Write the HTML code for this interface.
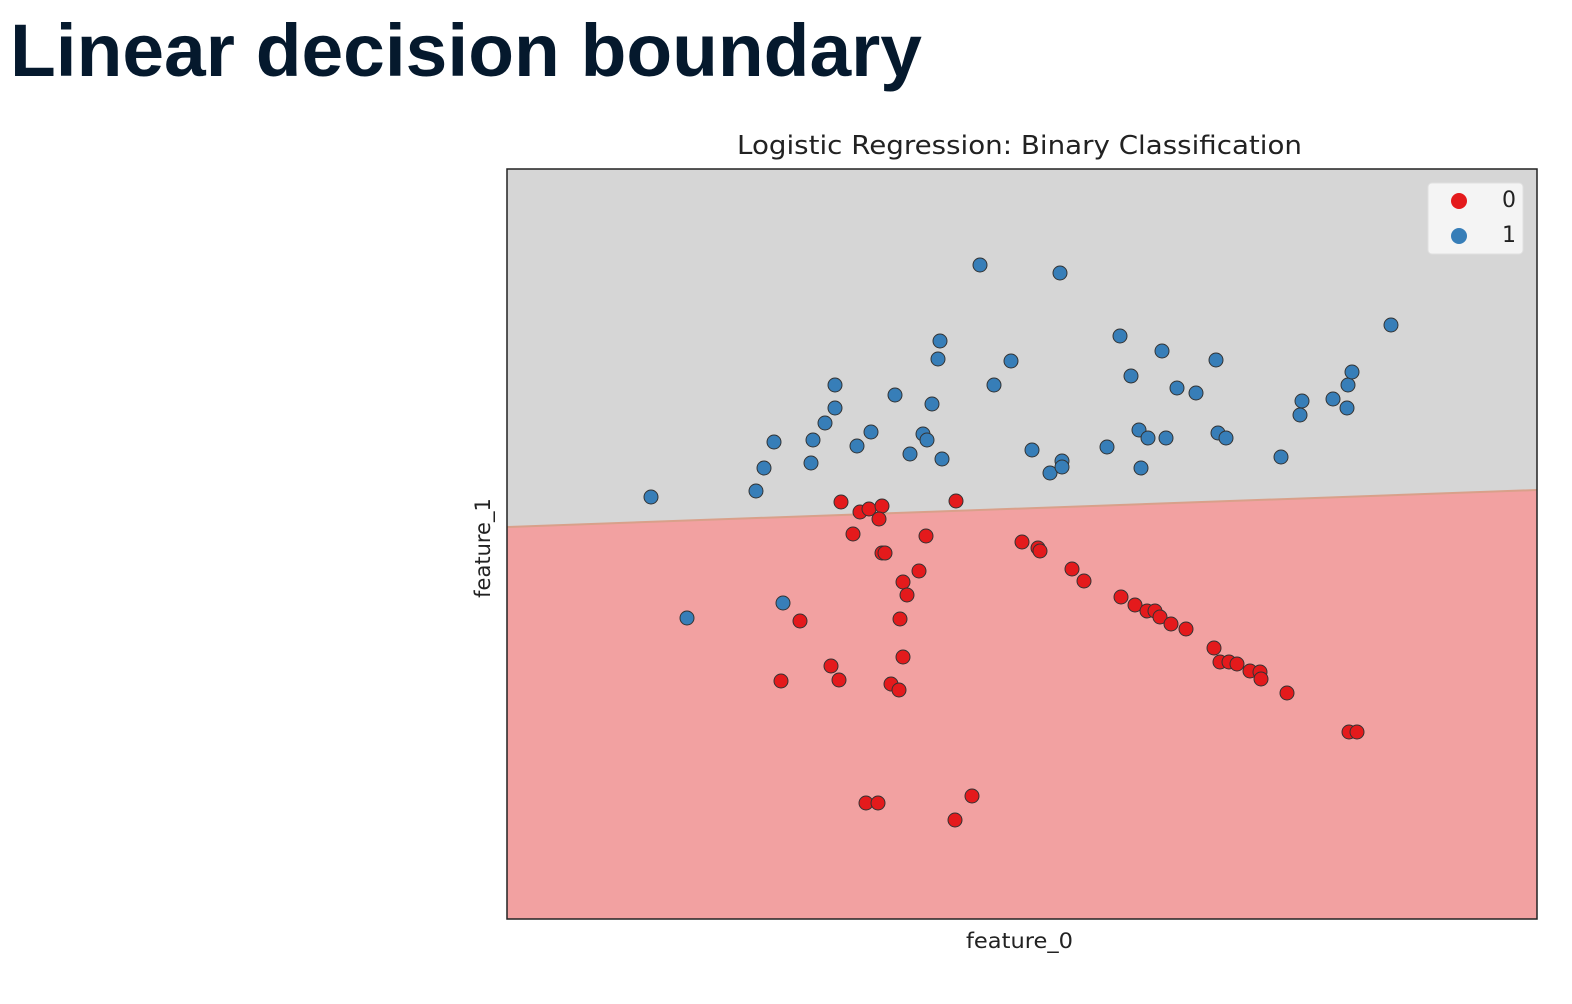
<!DOCTYPE html>
<html><head><meta charset="utf-8"><style>
html,body{margin:0;padding:0;background:#fff;}
svg{display:block;}
</style></head><body>
<svg id="root" width="1572" height="1004" xmlns="http://www.w3.org/2000/svg">
<text x="10" y="76" font-family="Liberation Sans, sans-serif" font-weight="bold" font-size="74" fill="#05192d" textLength="912" lengthAdjust="spacingAndGlyphs">Linear decision boundary</text>
<text x="737" y="154" font-family="DejaVu Sans, sans-serif" font-size="26" fill="#222" textLength="565" lengthAdjust="spacingAndGlyphs">Logistic Regression: Binary Classification</text>
<g id="plot"></g>
<text x="966" y="948" font-family="DejaVu Sans, sans-serif" font-size="21" fill="#222" textLength="107" lengthAdjust="spacingAndGlyphs">feature_0</text>
<text transform="translate(490,548) rotate(-90)" text-anchor="middle" font-family="DejaVu Sans, sans-serif" font-size="21" fill="#222">feature_1</text>
<g>
<rect x="1428" y="183" width="95" height="71" rx="4" fill="#f4f4f4" stroke="#e0e0e0"/>
<circle cx="1459" cy="201" r="8" fill="#e41a1c"/>
<text x="1502" y="207" font-family="DejaVu Sans, sans-serif" font-size="22" fill="#222">0</text>
<circle cx="1459" cy="236" r="8" fill="#377eb8"/>
<text x="1502" y="242" font-family="DejaVu Sans, sans-serif" font-size="22" fill="#222">1</text>
</g>
</svg>
<script>
const blueX=[6.51,6.87,7.56,7.64,7.74,7.83,8.11,8.13,8.25,8.35,8.35,8.57,8.71,8.95,9.10,9.23,9.27,9.32,9.38,9.40,9.42,9.80,9.94,10.11,10.32,10.50,10.62,10.62,10.60,11.07,11.20,11.31,11.39,11.41,11.48,11.62,11.66,11.77,11.96,12.16,12.18,12.26,12.81,13.00,13.02,13.33,13.47,13.48,13.52,13.91];
const blueY=[5.03,3.82,5.09,5.32,5.58,3.97,5.37,5.60,5.77,5.92,6.15,5.54,5.68,6.05,5.46,5.66,5.60,5.96,6.41,6.59,5.41,7.35,6.15,6.39,5.50,5.27,5.39,5.33,7.27,5.53,6.64,6.24,5.70,5.32,5.62,6.49,5.62,6.12,6.07,6.40,5.67,5.62,5.43,5.85,5.99,6.01,5.92,6.15,6.28,6.75];
const redX=[8.41,8.60,8.69,8.82,8.79,8.53,8.82,8.85,9.26,9.56,9.19,9.03,9.07,9.00,8.00,7.81,8.31,8.39,8.91,8.99,9.03,10.22,10.38,10.40,10.72,10.84,11.21,11.35,11.47,11.55,11.60,11.71,11.86,12.14,12.20,12.29,12.37,12.50,12.60,12.61,12.87,13.49,13.57,8.66,8.78,9.72,9.55];
const redY=[4.98,4.88,4.91,4.94,4.81,4.66,4.47,4.47,4.64,4.99,4.29,4.18,4.05,3.81,3.79,3.19,3.34,3.20,3.16,3.10,3.43,4.58,4.52,4.49,4.31,4.19,4.03,3.95,3.89,3.89,3.83,3.76,3.71,3.52,3.38,3.38,3.36,3.29,3.28,3.21,3.07,2.68,2.68,1.97,1.97,2.04,1.80];
const xDomain=[5.07,15.37], yDomain=[0.81,8.31];
const boundaryX=[5.07,15.37], boundaryY=[4.73,5.10];
const L=507,R=1537,T=169,B=919;
const sx=v=>L+(v-xDomain[0])/(xDomain[1]-xDomain[0])*(R-L);
const sy=v=>B-(v-yDomain[0])/(yDomain[1]-yDomain[0])*(B-T);
const NS='http://www.w3.org/2000/svg';
const g=document.getElementById('plot');
function mk(tag,attrs){const e=document.createElementNS(NS,tag);for(const k in attrs)e.setAttribute(k,attrs[k]);g.appendChild(e);return e;}
const bg=mk('rect',{x:L,y:T,width:R-L,height:B-T,fill:'#d6d6d6'});


const x0=sx(boundaryX[0]),y0=sy(boundaryY[0]),x1=sx(boundaryX[1]),y1=sy(boundaryY[1]);
const reg=mk('polygon',{points:`${x0},${y0} ${x1},${y1} ${R},${B} ${L},${B}`,fill:'#f2a1a1'});


const bl=mk('line',{x1:x0,y1:y0,x2:x1,y2:y1,stroke:'#d9a08a','stroke-width':2});


function pts(xs,ys,color,name){for(let i=0;i<xs.length;i++){const c=mk('circle',{cx:sx(xs[i]),cy:sy(ys[i]),r:7,fill:color,stroke:'#333','stroke-width':1});

}}
pts(blueX,blueY,'#377eb8','point-class-1');
pts(redX,redY,'#e41a1c','point-class-0');
const fr=mk('rect',{x:L,y:T,width:R-L,height:B-T,fill:'none',stroke:'#222','stroke-width':1.5});


</script>
</body></html>
